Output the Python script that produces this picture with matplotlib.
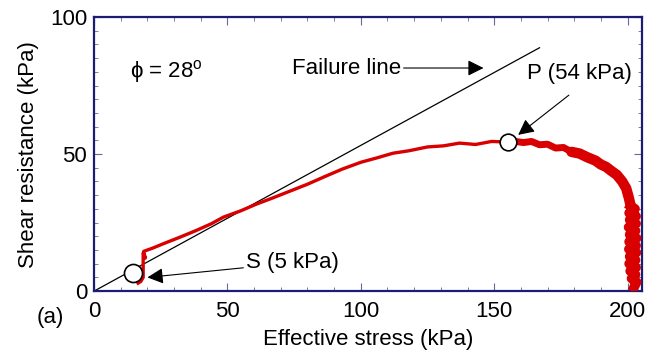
import numpy as np
import matplotlib.pyplot as plt

plt.rcParams['font.family'] = ['Liberation Sans', 'DejaVu Sans']
plt.rcParams['mathtext.fontset'] = 'custom'
plt.rcParams['mathtext.rm'] = 'Liberation Sans'

# failure envelope
phi_deg = 28
fail_x = [0, 167]

# stress path, smooth part
path_x = [16.5, 17.5, 18.4, 18.4, 19.2, 18.6, 20, 22, 26, 32, 38, 44, 48.5, 55, 61, 67,
          73.5, 80, 87, 93, 100, 106, 112, 118, 125, 131, 137, 143, 149, 155, 160]
path_y = [2.9, 3.5, 5, 13.9, 12, 14.5, 15, 15.7, 17.3, 19.6, 22, 24.6, 27, 29.3, 31.8, 34,
          36.5, 39, 42, 44.5, 47, 48.6, 50.3, 51.2, 52.6, 53, 54, 53.5, 54.6, 54.4, 54.8]

# stress path, noisy tail
tail_x = [158, 161, 164, 167, 170, 173, 176, 179, 182, 185, 188, 190, 192, 194, 196, 198, 199.5, 200.5, 201.2]
tail_y = [54.6, 54.2, 54.6, 53.4, 53.6, 52.2, 52.4, 50.8, 50.2, 48.8, 47.6, 46.2, 45.3, 43.8, 42.4, 40, 37.5, 34, 31]

vert_x = [201.2, 202.8, 200.6, 203.2, 200.8, 203.2, 200.4, 203, 200.8, 203.4, 200.6, 203.2, 200.5,
          203.3, 200.8, 203, 200.6, 203.2, 201, 203, 201.5, 203.4, 202.5]
vert_y = [31, 30, 28.5, 27.3, 26, 24.6, 23.3, 22, 20.6, 19.3, 18, 16.6, 15.3, 14, 12.6, 11.3, 10,
          8.6, 7.3, 6, 4.6, 3.3, 1.5]

# marked points
s_pt = (14.6, 6.6)
p_pt = (155, 54.4)

fig = plt.figure(figsize=(6.58, 3.55), dpi=100)
ax = fig.add_axes([0.143, 0.180, 0.833, 0.772])

red = '#d80000'
fy = [x * np.tan(np.radians(phi_deg)) for x in fail_x]
ax.plot(fail_x, fy, color='black', lw=0.9, zorder=2)
ax.plot(path_x, path_y, color=red, lw=2.4, zorder=3)
ax.plot(tail_x[:8], tail_y[:8], color=red, lw=5, solid_joinstyle='round', zorder=3)
ax.plot(tail_x[7:], tail_y[7:], color=red, lw=7.5, solid_joinstyle='round',
        solid_capstyle='round', zorder=3)
ax.plot(vert_x, vert_y, color=red, lw=7, solid_joinstyle='round', zorder=3)

ax.plot(*s_pt, 'o', ms=13, mfc='white', mec='black', mew=1.2, zorder=5)
ax.plot(*p_pt, 'o', ms=12, mfc='white', mec='black', mew=1.2, zorder=5)

arrow = dict(arrowstyle='-|>', color='black', lw=0.8, mutation_scale=24, shrinkA=0, shrinkB=0)
ax.annotate('Failure line', xy=(146, 81.4), xytext=(115, 81.4), fontsize=16,
            ha='right', va='center', arrowprops=arrow)
ax.annotate('', xy=(159, 57), xytext=(178, 71.5), arrowprops=arrow)
ax.text(182, 79.5, 'P (54 kPa)', fontsize=16, ha='center', va='center')
ax.annotate('S (5 kPa)', xy=(20, 5), xytext=(57, 10.3), fontsize=16,
            ha='left', va='center', arrowprops=arrow)
ax.text(27, 80, '\u03d5 = 28$^{\\rm o}$', fontsize=16, ha='center', va='center')

ax.set_xlim(0, 205.5)
ax.set_ylim(0, 100)
ax.set_xticks([0, 50, 100, 150, 200])
ax.set_yticks([0, 50, 100])
ax.set_xticks(np.arange(0, 206, 10), minor=True)
ax.set_yticks(np.arange(0, 101, 5), minor=True)
ax.tick_params(which='both', direction='in', top=True, right=True, color='#6a6a9a',
               labelsize=16)
ax.tick_params(which='major', length=6, width=0.8)
ax.tick_params(which='minor', length=3, width=0.6)
ax.tick_params(axis='x', pad=7)
ax.tick_params(axis='y', pad=5)
for sp in ax.spines.values():
    sp.set_color('#1c1c74')
    sp.set_linewidth(1.6)

ax.set_xlabel('Effective stress (kPa)', fontsize=16, labelpad=5)
ax.set_ylabel('Shear resistance (kPa)', fontsize=16, labelpad=8)
fig.text(0.076, 0.107, '(a)', fontsize=16, ha='center', va='center')

fig.savefig('out.png', dpi=100)
